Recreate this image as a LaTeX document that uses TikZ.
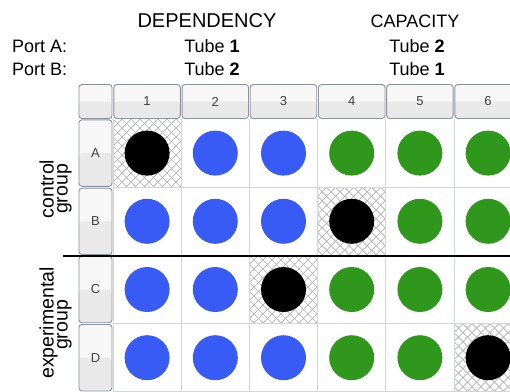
\documentclass[tikz,border=0pt]{standalone}
\usepackage{fontspec}
\setmainfont{Liberation Sans}
\definecolor{cblue}{RGB}{56,90,245}
\definecolor{cgreen}{RGB}{47,152,28}
\definecolor{gridc}{RGB}{208,214,222}
\definecolor{hdrline}{RGB}{140,148,156}
\definecolor{hdrtop}{RGB}{247,247,247}
\definecolor{hdrbot}{RGB}{233,233,233}
\definecolor{hatchc}{RGB}{178,178,178}
\begin{document}
\begin{tikzpicture}[x=1pt,y=-1pt,
  hdr/.style={draw=hdrline, line width=0.9pt, rounded corners=3pt, fill=hdrtop, inner sep=0pt,
    font=\fontsize{13}{13}\selectfont, text=black!75,
    path picture={\fill[hdrbot] (path picture bounding box.west) rectangle (path picture bounding box.south east);}},
  colhdr/.style={hdr, minimum width=66.5pt, minimum height=34pt},
  rowhdr/.style={hdr, minimum width=33pt, minimum height=66.5pt},
  dot/.style={circle, minimum size=45pt, inner sep=0pt},
  bl/.style={dot, fill=cblue}, gr/.style={dot, fill=cgreen}, bk/.style={dot, fill=black},
  big/.style={font=\fontsize{18}{18}\selectfont, inner sep=0pt},
  grp/.style={font=\fontsize{19.5}{19.5}\selectfont, inner sep=0pt, rotate=90, anchor=base},
  gridline/.style={draw=gridc, line width=0.8pt},
  hatchline/.style={draw=hatchc, line width=0.7pt}
]
\useasboundingbox (0,0) rectangle (510,391);
\fill[white] (0,0) rectangle (510,391);
\clip (0,0) rectangle (510,391);
\def\cw{68.2}
% hatched cells
\foreach \c/\r in {1/1,4/2,3/3,6/4}{
  \begin{scope}
  \clip ({113+\cw*(\c-1)},{119+\cw*(\r-1)}) rectangle ++(\cw,\cw);
  \foreach \k in {-9,...,17}{
    \draw[hatchline] ({113+\cw*(\c-1)+9*\k},{119+\cw*(\r-1)}) -- ++(70,70);
    \draw[hatchline] ({113+\cw*(\c-1)+9*\k},{119+\cw*(\r-1)}) -- ++(-70,70);
  }
  \end{scope}
}
% grid
\foreach \k in {0,...,6}{
  \draw[gridline] ({113+\cw*\k},119) -- ({113+\cw*\k},391);
}
\foreach \k in {1,...,4}{
  \draw[gridline] (113,{119+\cw*\k}) -- (510,{119+\cw*\k});
}
% headers
\node[hdr, minimum width=33pt, minimum height=34pt] (corner) at (95.5,101.5) {};
\foreach \c in {1,...,6}{
  \node[colhdr] (h\c) at ({113+\cw*(\c-0.5)},101.5) {\c};
}
\foreach \r/\l in {1/A,2/B,3/C,4/D}{
  \node[rowhdr] (r\l) at (95.5,{119+\cw*(\r-0.5)}) {\l};
}
% dots
\foreach \r/\l in {1/A,2/B,3/C,4/D}{
  \foreach \c in {1,...,6}{
    \coordinate (p\l\c) at ({113+\cw*(\c-0.5)},{119+\cw*(\r-0.5)});
  }
}
\node[bk] (dA1) at (pA1) {}; \node[bl] (dA2) at (pA2) {}; \node[bl] (dA3) at (pA3) {};
\node[gr] (dA4) at (pA4) {}; \node[gr] (dA5) at (pA5) {}; \node[gr] (dA6) at (pA6) {};
\node[bl] (dB1) at (pB1) {}; \node[bl] (dB2) at (pB2) {}; \node[bl] (dB3) at (pB3) {};
\node[bk] (dB4) at (pB4) {}; \node[gr] (dB5) at (pB5) {}; \node[gr] (dB6) at (pB6) {};
\node[bl] (dC1) at (pC1) {}; \node[bl] (dC2) at (pC2) {}; \node[bk] (dC3) at (pC3) {};
\node[gr] (dC4) at (pC4) {}; \node[gr] (dC5) at (pC5) {}; \node[gr] (dC6) at (pC6) {};
\node[bl] (dD1) at (pD1) {}; \node[bl] (dD2) at (pD2) {}; \node[bl] (dD3) at (pD3) {};
\node[gr] (dD4) at (pD4) {}; \node[gr] (dD5) at (pD5) {}; \node[bk] (dD6) at (pD6) {};
% separator
\coordinate (sepL) at (63,256);
\coordinate (sepR) at (510,256);
\draw[line width=1.8pt] (sepL) -- (sepR);
% group labels
\node[grp] (ctl1) at (53.5,189) {control};
\node[grp] (ctl2) at (67.5,189) {group};
\node[grp] (exp1) at (53.5,323) {experimental};
\node[grp] (exp2) at (67.5,325) {group};
% top texts
\node[big, anchor=base, font=\fontsize{20}{20}\selectfont] (dep) at (207,27) {DEPENDENCY};
\node[big, anchor=base] (cap) at (415,27) {CAPACITY};
\node[big, anchor=base west] (pa) at (12,52) {Port A:};
\node[big, anchor=base west] (pb) at (12,75) {Port B:};
\node[big, anchor=base] (t11) at (212,52) {Tube \textbf{1}};
\node[big, anchor=base] (t12) at (212,75) {Tube \textbf{2}};
\node[big, anchor=base] (t21) at (417,52) {Tube \textbf{2}};
\node[big, anchor=base] (t22) at (417,75) {Tube \textbf{1}};
\end{tikzpicture}
\end{document}
